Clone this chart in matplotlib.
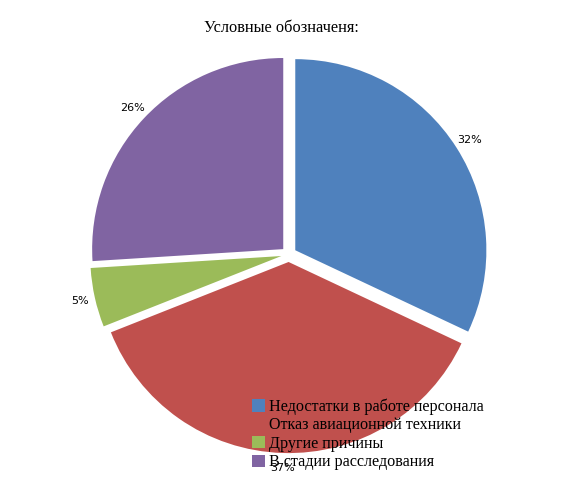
import matplotlib
matplotlib.use("Agg")
import matplotlib.pyplot as plt

labels = ["Недостатки в работе персонала", "Отказ авиационной техники",
          "Другие причины", "В стадии расследования"]
values = [32, 37, 5, 26]
colors = ["#4F81BD", "#C0504D", "#9BBB59", "#8064A2"]

fig = plt.figure(figsize=(5.63, 4.79), dpi=100)
w, h = 0.675 * 1.056, 0.7934 * 1.056
ax = fig.add_axes([0.513 - w / 2, 0.469 - h / 2, w, h])

wedges, texts, autotexts = ax.pie(
    values, colors=colors, startangle=90, counterclock=False,
    explode=[0.04] * 4, autopct="%1.0f%%", pctdistance=1.08,
    textprops={"fontsize": 8, "family": "DejaVu Sans"},
    radius=1.0,
)
ax.set_xlim(-1.05, 1.05)
ax.set_ylim(-1.05, 1.05)
ax.set_aspect("equal")

fig.text(0.5, 0.942, "Условные обозначеня:", ha="center", va="center",
         fontsize=11.8, family="Liberation Serif")

leg = fig.legend(wedges, labels, loc="upper left", bbox_to_anchor=(0.447, 0.168),
                 frameon=False, prop={"family": "Liberation Serif", "size": 11.6},
                 handlelength=0.8, handleheight=0.8, handletextpad=0.3,
                 labelspacing=0.15, borderpad=0, borderaxespad=0)

fig.savefig("out.png", dpi=100)
